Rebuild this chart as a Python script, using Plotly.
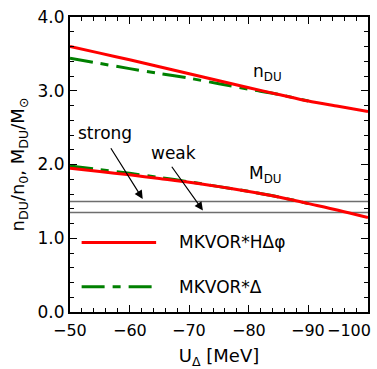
import plotly.graph_objects as go

# Optical potential of the Delta isobar, MeV
u_red = [-50, -55, -60, -65, -70, -75, -80, -85, -90, -95, -100]
# MKVOR*HΔφ: DU threshold density (n_DU/n_0) and star mass (M_DU/M_sun)
n_du_red = [3.60, 3.51, 3.42, 3.325, 3.23, 3.135, 3.04, 2.95, 2.86, 2.79, 2.72]
m_du_red = [1.95, 1.905, 1.86, 1.81, 1.76, 1.70, 1.635, 1.56, 1.47, 1.38, 1.28]

# MKVOR*Δ
u_green = [-50, -55, -60, -65, -70, -75, -80, -85, -90]
n_du_green = [3.44, 3.37, 3.30, 3.235, 3.17, 3.095, 3.02, 2.95, 2.86]
m_du_green = [1.98, 1.93, 1.88, 1.825, 1.765, 1.70, 1.635, 1.56, 1.47]

# "strong" and "weak" DU constraints on the star mass
constraint_names = ["strong", "weak"]
constraint_masses = [1.5, 1.35]

legend_names = ["MKVOR*HΔφ", "MKVOR*Δ"]

x_ticks = [-50, -60, -70, -80, -90, -100]
x_tick_text = ["−50", "−60", "−70", "−80", "−90", "−100"]
y_ticks = [0, 1, 2, 3, 4]
y_tick_text = ["0.0", "1.0", "2.0", "3.0", "4.0"]

RED = "#ff0000"
GREEN = "#008000"
DASHDOT = "23px,8px,8px,8px"
FONT = "DejaVu Sans"

fig = go.Figure()

for yval in constraint_masses:
    fig.add_trace(go.Scatter(
        x=[x_ticks[0], x_ticks[-1]], y=[yval, yval], mode="lines",
        line=dict(color="#6e6e6e", width=1.5), showlegend=False, hoverinfo="skip"))

for ys in (n_du_green, m_du_green):
    fig.add_trace(go.Scatter(x=u_green, y=ys, mode="lines",
                             line=dict(color=GREEN, width=3, dash=DASHDOT, shape="spline", smoothing=0.8),
                             showlegend=False))
for ys in (n_du_red, m_du_red):
    fig.add_trace(go.Scatter(x=u_red, y=ys, mode="lines",
                             line=dict(color=RED, width=3, shape="spline", smoothing=0.8),
                             showlegend=False))

annotations = []

# x tick labels; the last one is kept inside the frame
for i, (v, t) in enumerate(zip(x_ticks, x_tick_text)):
    last = i == len(x_ticks) - 1
    annotations.append(dict(
        x=v, y=0, xref="x", yref="paper", text=t, showarrow=False,
        xanchor="right" if last else "center", yanchor="top", yshift=-7,
        xshift=5 if last else 0,
        font=dict(size=16, color="black", family=FONT)))

# curve labels
annotations.append(dict(x=-83.2, y=3.25, xref="x", yref="y", text="n<sub>DU</sub>",
                        showarrow=False, font=dict(size=17, color="black", family=FONT)))
annotations.append(dict(x=-82.8, y=1.87, xref="x", yref="y", text="M<sub>DU</sub>",
                        showarrow=False, font=dict(size=17, color="black", family=FONT)))

# constraint labels with arrows
label_pos = [(-55.8, 2.43), (-67.3, 2.15)]
arrow_tail = [(-56.7, 2.24), (-66.9, 1.99)]
arrow_head = [(-62.2, 1.533), (-72.3, 1.377)]
for name, (lx, ly), (tx, ty), (hx, hy) in zip(constraint_names, label_pos, arrow_tail, arrow_head):
    annotations.append(dict(x=lx, y=ly, xref="x", yref="y", text=name, showarrow=False,
                            font=dict(size=17, color="black", family=FONT)))
    annotations.append(dict(x=hx, y=hy, ax=tx, ay=ty, xref="x", yref="y", axref="x", ayref="y",
                            text="", showarrow=True, arrowhead=2, arrowsize=1.4,
                            arrowwidth=1.2, arrowcolor="black", standoff=0))

# legend
legend_rows = [(0.2357, RED, "solid"), (0.0857, GREEN, DASHDOT)]
shapes = []
for name, (py, col, dash) in zip(legend_names, legend_rows):
    shapes.append(dict(type="line", xref="paper", yref="paper", x0=0.039, x1=0.289, y0=py, y1=py,
                       line=dict(color=col, width=3, dash=dash)))
    annotations.append(dict(x=0.36, y=py, xref="paper", yref="paper", text=name, showarrow=False,
                            xanchor="left", yanchor="middle",
                            font=dict(size=17, color="black", family=FONT)))

axis_common = dict(
    showline=True, linecolor="black", linewidth=2, mirror="allticks",
    ticks="inside", ticklen=7, tickwidth=1, tickcolor="black",
    showgrid=False, zeroline=False,
)

fig.update_layout(
    width=377, height=369,
    margin=dict(l=70, r=7, t=15, b=54),
    paper_bgcolor="white", plot_bgcolor="white",
    font=dict(family=FONT, size=17, color="black"),
    showlegend=False,
    annotations=annotations, shapes=shapes,
    xaxis=dict(range=[-50, -100], tickvals=x_ticks, showticklabels=False,
               minor=dict(dtick=2, ticklen=4, ticks="inside", tickcolor="black", tickwidth=1),
               title=dict(text="U<sub>Δ</sub> [MeV]", standoff=37, font=dict(size=18)),
               **axis_common),
    yaxis=dict(range=[0, 4], tickvals=y_ticks, ticktext=y_tick_text,
               minor=dict(dtick=0.2, ticklen=4, ticks="inside", tickcolor="black", tickwidth=1),
               title=dict(text="n<sub>DU</sub>/n<sub>0</sub>, M<sub>DU</sub>/M<sub>⊙</sub>",
                          standoff=8, font=dict(size=18)),
               tickfont=dict(size=17),
               **axis_common),
)

fig.write_html("out.html")
